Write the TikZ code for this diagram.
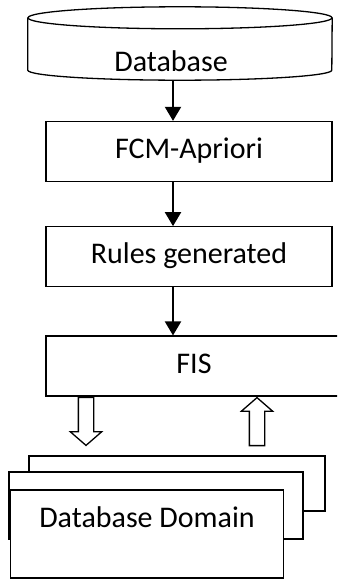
\documentclass[tikz,border=0pt]{standalone}
\usepackage{fontspec}
\setmainfont{Carlito}
\usetikzlibrary{arrows.meta,positioning,shapes.arrows}

\begin{document}
\begin{tikzpicture}[x=1pt, y=-1pt,
    font=\fontsize{30}{35}\selectfont,
    flow/.style={-{Triangle[width=16pt,length=14pt]}, line width=2pt},
    stage/.style={rectangle, draw, line width=1.3pt, minimum width=286pt,
      minimum height=60pt, text height=20pt, text depth=6pt, inner sep=0pt},
    sheet/.style={rectangle, draw, fill=white, line width=1.3pt, inner sep=0pt},
    hollow/.style={single arrow, draw, line width=1.3pt, minimum width=30pt,
      minimum height=48pt, single arrow head extend=8pt, single arrow tip angle=98,
      inner xsep=0pt, inner ysep=7pt}
    ]

    \clip (0,0) rectangle (337,580);

    % database cylinder
    \node[minimum width=304pt, minimum height=62pt, inner sep=0pt] (db) at (180,49) {};
    \draw[line width=1.3pt] (db.north) ellipse [x radius=152pt, y radius=11pt];
    \draw[line width=1.3pt] (db.north west) -- ([yshift=10pt]db.south west)
      arc[start angle=180, end angle=360, x radius=152pt, y radius=10pt] -- (db.north east);
    \node (dbtext) at (171,61) {Database};

    \node[stage]         (fcm)   at (189,151.5)   {FCM-Apriori};
    \node[stage]         (rules) [below=44pt of fcm] {Rules generated};
    \node[stage, minimum width=296pt] (fis) [below=48pt of rules, xshift=5pt] {FIS};

    \draw[flow] ([xshift=-7pt]db.south) -- ([xshift=-16pt]fcm.north);
    \draw[flow] ([xshift=-16pt]fcm.south) -- ([xshift=-16pt]rules.north);
    \draw[flow] ([xshift=-16pt]rules.south) -- ([xshift=-16pt]rules.south |- fis.north);

    % stacked domain sheets
    \node[sheet, minimum width=296pt, minimum height=55pt] (back) at (177,483.5) {};
    \node[sheet, minimum width=294pt, minimum height=67pt] (mid)  at (156,505.5) {};
    \node[sheet, minimum width=273pt, minimum height=88pt,
      text height=20pt, text depth=34pt] (domain) at (147,534) {Database Domain};

    \node[hollow, rotate=-90, anchor=tail] (down) at ([xshift=-108pt]fis.south) {};
    \node[hollow, rotate=90, anchor=tip]   (up)   at ([xshift=63pt]fis.south) {};
\end{tikzpicture}
\end{document}
